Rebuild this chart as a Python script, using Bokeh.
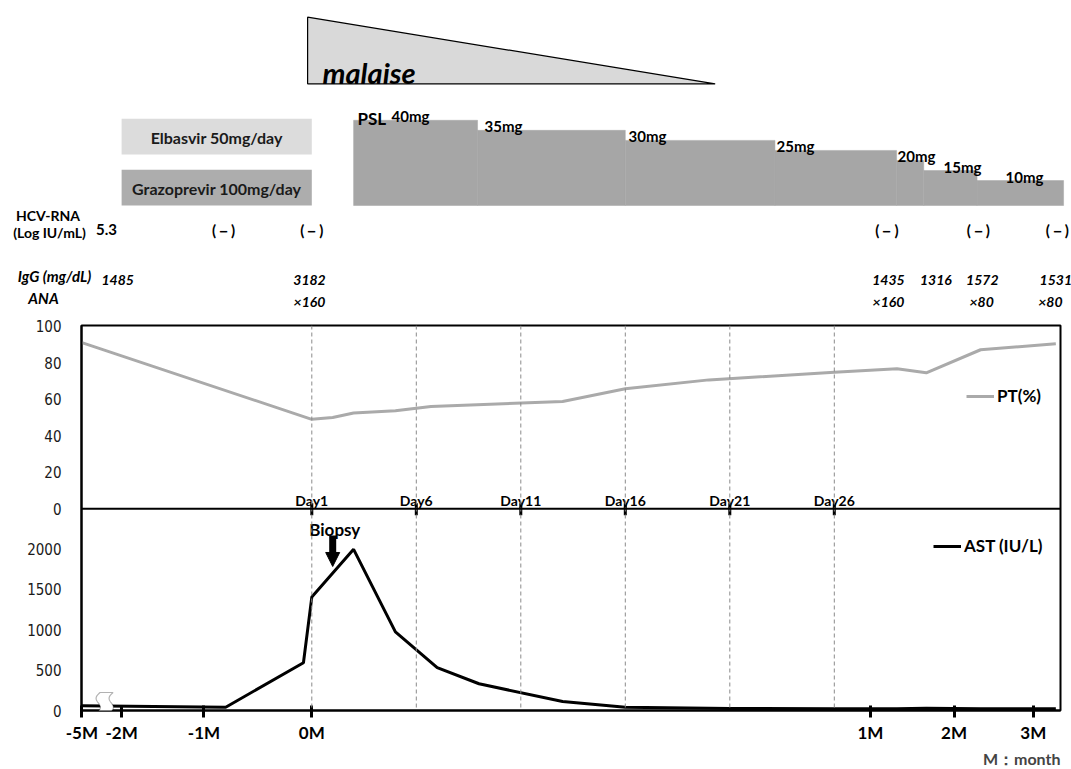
import numpy as np
from bokeh.plotting import figure
from bokeh.models import (Range1d, FixedTicker, Span, Legend, LegendItem, Arrow,
                          NormalHead, Title, PolyAnnotation)
from bokeh.core.properties import value
from bokeh.embed import file_html
from bokeh.resources import INLINE

# ---------------- data ----------------
day_labels = ["Day1", "Day6", "Day11", "Day16", "Day21", "Day26"]
day_pos = [0, 5, 10, 15, 20, 25]

month_labels = ["-5M", "-2M", "-1M", "0M", "1M", "2M", "3M"]
month_pos = [-11.0, -9.10, -5.16, 0.0, 26.73, 30.73, 34.52]

pt_x = [-11.0, 0.0, 1.0, 2.0, 4.0, 5.7, 12.0, 15.0, 19.0, 25.0, 28.0, 29.4, 32.0, 35.6]
pt_val = [91, 49, 50, 52.5, 53.7, 56, 58.8, 65.7, 70.6, 74.8, 76.7, 74.5, 87.1, 90.4]

ast_x = [-11.0, -4.12, -0.4, 0.0, 2.0, 4.0, 6.0, 8.0, 12.0, 15.0, 20.0, 25.0, 28.0, 29.4, 32.0, 35.6]
ast_val = [60, 40, 590, 1400, 1990, 970, 530, 330, 110, 40, 25, 22, 22, 28, 22, 22]

psl_dose = [40, 35, 30, 25, 20, 15, 10]
psl_start = [2.0, 7.93, 15.0, 22.16, 27.98, 29.28, 31.83]
psl_end = [7.93, 15.0, 22.16, 27.98, 29.28, 31.83, 35.97]
psl_labels = ["40mg", "35mg", "30mg", "25mg", "20mg", "15mg", "10mg"]

daa_names = ["Elbasvir 50mg/day", "Grazoprevir 100mg/day"]
daa_start = -9.10
daa_end = 0.0

malaise_start = -0.2
malaise_end = 19.3

hcv_x = [-9.82, -4.22, 0.0, 27.52, 31.89, 35.67]
hcv_text = ["5.3", "(－)", "(－)", "(－)", "(－)", "(－)"]
igg_x = [-9.29, -0.11, 27.59, 29.86, 32.08, 35.6]
igg_text = ["1485", "3182", "1435", "1316", "1572", "1531"]
ana_x = [-0.11, 27.59, 32.05, 35.34]
ana_text = ["×160", "×160", "×80", "×80"]

biopsy_day = 1.0
break_x = -9.82

# ---------------- layout helpers ----------------
PX0 = 311.3      # page px of timeline 0
PPU = 20.9       # px per timeline unit


def tx(px):
    return (px - PX0) / PPU


W = 1071
TOP_H = 315
MAIN_H = 454
FONT = "Lato"

# ================= top annotation figure =================
top = figure(width=W, height=TOP_H, x_range=Range1d(tx(0), tx(W)),
             y_range=Range1d(TOP_H, 0), output_backend="svg",
             toolbar_location=None, x_axis_location=None, y_axis_location=None,
             min_border=0, outline_line_color=None)
top.grid.visible = False


def dose_of(py):
    return 25 - (py - 149.93) / 2.009


top.extra_y_ranges = {"dose": Range1d(dose_of(TOP_H), dose_of(0))}

# malaise triangle
top.patch(x=[malaise_start, malaise_start, malaise_end], y=[16.7, 83.3, 83.3],
          fill_color="#d9d9d9", line_color="black", line_width=1.2)
top.text(x=[tx(322)], y=[71.5], text=["malaise"], text_font=value(FONT),
         text_font_style="bold italic", text_font_size="29px",
         text_align="left", text_baseline="alphabetic", text_color="black")

# DAA boxes
top.quad(left=[daa_start] * 2, right=[daa_end] * 2, top=[118.3, 169.3], bottom=[154, 205],
         fill_color=["#dcdcdc", "#adadad"], line_color=None)
top.text(x=[(daa_start + daa_end) / 2] * 2, y=[136.5, 187.5], text=daa_names,
         text_font=value(FONT), text_font_style="bold", text_font_size="16px",
         text_align="center", text_baseline="middle", text_color="#1a1a1a")

# PSL steps
top.quad(left=psl_start, right=psl_end, bottom=dose_of(205), top=psl_dose,
         y_range_name="dose", fill_color="#a6a6a6", line_color="#a6a6a6", line_width=0.5)
psl_label_px = [391, 484, 628, 776, 897, 943, 1005]
top.text(x=[tx(p) for p in psl_label_px], y=psl_dose, text=psl_labels, y_range_name="dose",
         y_offset=-4, text_font=value(FONT), text_font_style="bold", text_font_size="15px",
         text_align="left", text_baseline="alphabetic", text_color="black")
top.text(x=[tx(357)], y=[psl_dose[0]], text=["PSL"], y_range_name="dose", y_offset=-2,
         text_font=value(FONT), text_font_style="bold", text_font_size="17px",
         text_align="left", text_baseline="alphabetic", text_color="black")

# row headers
top.text(x=[tx(47.5), tx(49)], y=[215, 232], text=["HCV-RNA", "(Log IU/mL)"],
         text_font=value(FONT), text_font_style="bold", text_font_size="14px",
         text_align="center", text_baseline="middle", text_color="black")
top.text(x=[tx(54), tx(43)], y=[275, 297.5], text=["IgG (mg/dL)", "ANA"],
         text_font=value(FONT), text_font_style="bold italic", text_font_size="15px",
         text_align="center", text_baseline="middle", text_color="black")

# row values
top.text(x=hcv_x, y=[229] * len(hcv_x), text=hcv_text,
         text_font=value(FONT), text_font_style="bold", text_font_size="15px",
         text_align="center", text_baseline="middle", text_color="black")
top.text(x=igg_x, y=[279] * len(igg_x), text=igg_text,
         text_font=value(FONT), text_font_style="bold italic", text_font_size="14px",
         text_align="center", text_baseline="middle", text_color="black")
top.text(x=ana_x, y=[301] * len(ana_x), text=ana_text,
         text_font=value(FONT), text_font_style="bold italic", text_font_size="14px",
         text_align="center", text_baseline="middle", text_color="black")

# ================= main PT + AST figure =================
FRAME_H = 385
AST_PX = 0.081                      # px per IU/L
Y_END = FRAME_H / AST_PX
PT_START, PT_END = -110.46, 100.38
FRAME_BOTTOM = TOP_H + 10 + FRAME_H   # page px of the AST zero line

main = figure(width=W, height=MAIN_H, x_range=Range1d(tx(81), tx(1060)),
              y_range=Range1d(0, Y_END), output_backend="svg", toolbar_location=None,
              min_border_left=81, min_border_right=W - 1060, min_border_top=10,
              min_border_bottom=MAIN_H - 10 - FRAME_H,
              outline_line_color="black", outline_line_width=2)
main.grid.visible = False
main.extra_y_ranges = {"pt": Range1d(PT_START, PT_END)}


def pt_to_primary(v):
    return (v - PT_START) * Y_END / (PT_END - PT_START)


ast_ticks = [0, 500, 1000, 1500, 2000]
pt_ticks = [0, 20, 40, 60, 80, 100]
y_ticks = ast_ticks + [pt_to_primary(t) for t in pt_ticks]
y_over = {float(t): str(t) for t in ast_ticks}
for t in pt_ticks:
    y_over[pt_to_primary(t)] = str(t)
main.yaxis.ticker = FixedTicker(ticks=y_ticks)
main.yaxis.major_label_overrides = y_over
main.yaxis.major_tick_line_color = None
main.yaxis.minor_tick_line_color = None
main.yaxis.axis_line_width = 2
main.yaxis.axis_line_color = "black"
main.yaxis.major_label_standoff = 14
main.yaxis.major_label_text_font = "'Liberation Sans Narrow', 'DejaVu Sans Condensed', sans-serif"
main.yaxis.major_label_text_font_size = "15px"
main.yaxis.major_label_text_color = "#1a1a1a"

main.xaxis.ticker = FixedTicker(ticks=month_pos)
main.xaxis.major_label_overrides = {p: l for p, l in zip(month_pos, month_labels)}
main.xaxis.minor_tick_line_color = None
main.xaxis.axis_line_width = 2
main.xaxis.axis_line_color = "black"
main.xaxis.major_tick_line_width = 3
main.xaxis.major_tick_line_color = "black"
main.xaxis.major_tick_in = 5
main.xaxis.major_tick_out = 7
main.xaxis.major_label_standoff = 4
main.xaxis.major_label_text_font = FONT
main.xaxis.major_label_text_font_style = "bold"
main.xaxis.major_label_text_font_size = "17px"
main.xaxis.major_label_text_color = "black"

# dashed day lines
for d in day_pos:
    main.add_layout(Span(location=d, dimension="height", line_color="#8a8a8a",
                         line_dash="4 3", line_width=1))
# divider between panels
main.add_layout(Span(location=0, dimension="width", y_range_name="pt",
                     line_color="black", line_width=2))
# day ticks and labels
main.segment(x0=day_pos, y0=[-3.6] * len(day_pos), x1=day_pos, y1=[3.1] * len(day_pos),
             y_range_name="pt", line_color="black", line_width=3)
main.text(x=day_pos, y=[4.6] * len(day_pos), text=day_labels, y_range_name="pt",
          text_font=value(FONT), text_font_style="bold", text_font_size="14px",
          text_align="center", text_baseline="alphabetic", text_color="black")

# series
r_pt = main.line(pt_x, pt_val, y_range_name="pt", line_color="#aaaaaa", line_width=3)
r_ast = main.line(ast_x, ast_val, line_color="black", line_width=3)

# break symbol
t = np.linspace(0, 1, 40)
left_px = 99.5 - 5.5 * t - 3.0 * np.sin(3 * np.pi * t)
right_px = left_px + 13.0
ys_px = 692 + 31 * t
bx = np.concatenate([left_px, right_px[::-1]])
by = np.concatenate([ys_px, ys_px[::-1]])
main.add_layout(PolyAnnotation(xs=list(break_x + (bx - 106.0) / PPU),
                               ys=list((FRAME_BOTTOM - by) / AST_PX),
                               fill_color="white", fill_alpha=1.0,
                               line_color="black", line_width=1.2))

# biopsy arrow
main.add_layout(Arrow(x_start=biopsy_day, y_start=2160, x_end=biopsy_day, y_end=1778,
                      line_width=7, line_color="black",
                      end=NormalHead(size=14, line_color="black", fill_color="black")))
main.text(x=[biopsy_day + 0.1], y=[2235], text=["Biopsy"], text_font=value(FONT),
          text_font_style="bold", text_font_size="17px", text_align="center",
          text_baseline="alphabetic", text_color="black")

# legends
for label, rend, loc in [("PT(%)", r_pt, (885, 304)), ("AST (IU/L)", r_ast, (852, 154))]:
    lg = Legend(items=[LegendItem(label=label, renderers=[rend])], location=loc,
                border_line_color=None, background_fill_alpha=0, padding=0, margin=0,
                spacing=0, glyph_width=28, glyph_height=20, label_height=20,
                label_standoff=3, label_text_font=FONT, label_text_font_style="bold",
                label_text_font_size="17px", label_text_color="black")
    main.add_layout(lg)

main.add_layout(Title(text="M：month", align="right", text_font=FONT,
                      text_font_style="bold", text_font_size="16px", standoff=2), "below")

open("out.html", "w").write(file_html([top, main], INLINE))
